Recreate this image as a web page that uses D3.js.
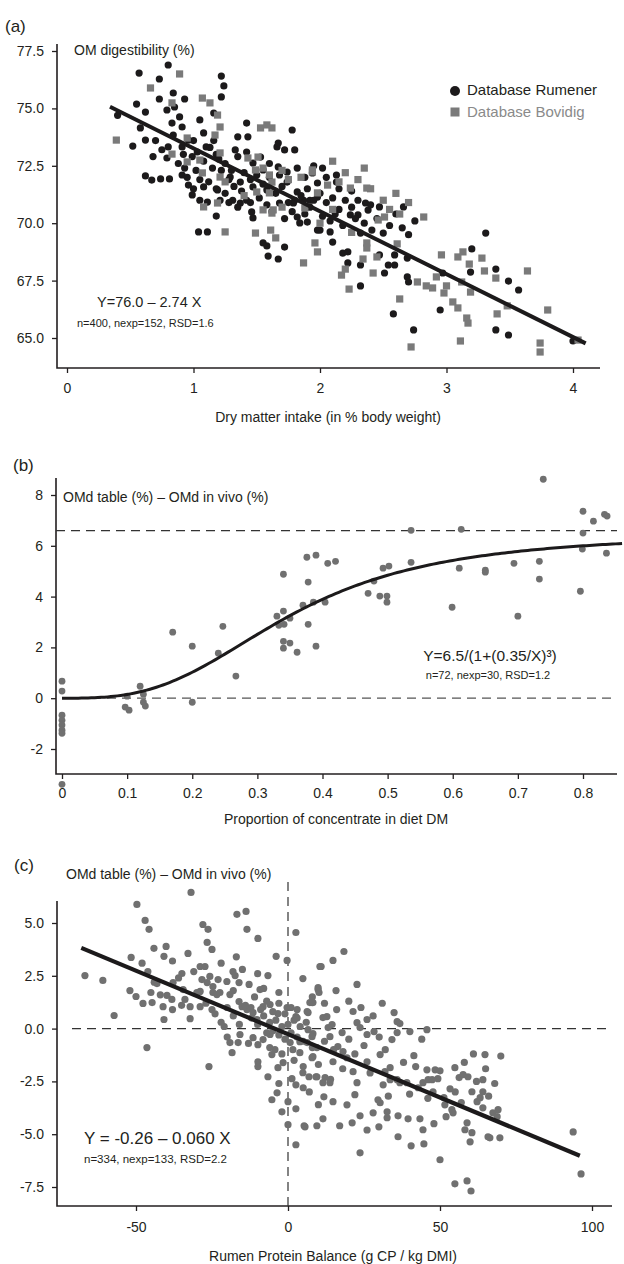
<!DOCTYPE html>
<html>
<head>
<meta charset="utf-8">
<script src="https://cdn.jsdelivr.net/npm/d3@7"></script>
<style>
  body { margin: 0; background: #fff; }
  svg { display: block; font-family: "Liberation Sans", Arial, sans-serif; }
</style>
</head>
<body>
<svg id="chart" width="624" height="1264"></svg>
<script>
// ---- Panel (a): OM digestibility vs dry matter intake ----
const rumener = [
  [0.57,76.54],[0.73,76.28],[0.80,76.89],[1.22,76.41],[1.24,75.98],[1.22,75.5],[0.73,75.41],[0.84,75.67],
  [0.93,75.41],[0.55,75.19],[0.62,74.84],[0.40,74.7],[0.58,74.15],[0.52,73.36],[0.62,73.62],[0.79,74.93],
  [0.85,75.06],[0.89,74.63],[0.83,74.36],[0.91,74.19],[0.84,73.84],[0.80,73.32],[0.79,72.84],[0.91,73.32],
  [0.96,73.62],[1.05,74.5],[1.08,73.93],[1.10,73.32],[1.16,74.8],[1.16,73.6],[0.99,72.9],[0.91,72.1],
  [0.62,72.06],[0.67,71.88],[0.74,71.93],[0.81,71.93],[0.93,72.4],[0.96,71.66],[0.99,71.23],[1.08,71.58],
  [1.05,71.0],[1.11,70.92],[1.19,71.45],[1.29,72.01],[1.37,71.79],[1.42,74.36],[1.35,73.76],[1.43,73.76],
  [1.33,73.19],[1.42,73.1],[1.47,72.62],[1.53,72.88],[1.55,72.32],[1.66,73.32],[1.72,73.19],[1.80,73.19],
  [1.78,74.06],[1.67,73.49],[1.67,72.45],[1.74,72.23],[1.74,71.79],[1.82,71.36],[1.94,72.19],[1.42,71.0],
  [1.31,71.0],[1.21,71.0],[1.47,71.58],[1.58,71.45],[1.87,71.0],[1.79,70.88],[1.92,71.0],[1.98,71.14],
  [1.04,69.62],[1.11,69.62],[1.18,70.31],[1.46,70.49],[1.47,70.23],[1.55,69.14],[1.58,69.01],[1.72,68.96],
  [1.59,68.57],[1.67,68.44],[1.82,70.27],[1.84,70.01],[1.90,70.05],[1.98,69.7],[1.68,70.88],[1.37,70.88],
  [2.00,69.7],[2.08,69.62],[2.10,69.18],[2.18,68.7],[2.22,68.75],[2.22,68.27],[2.32,68.18],[2.32,67.27],
  [2.32,69.57],[2.41,69.7],[2.50,69.57],[2.47,68.62],[2.51,67.83],[2.54,68.18],[2.59,68.18],[2.59,68.62],
  [2.69,68.48],[2.69,67.66],[2.70,67.44],[2.58,66.05],[2.74,65.35],[2.95,66.22],[2.97,67.83],[3.19,67.87],
  [3.20,68.88],[3.31,69.57],[3.39,68.0],[3.49,67.48],[3.57,67.09],[3.39,65.35],[3.49,65.13],[4.00,64.87],
  [2.36,70.88],[2.38,70.57],[2.47,70.71],[2.66,70.71],[2.30,70.36],[2.24,70.36],[2.02,72.4],[2.13,72.1],
  [2.13,71.79],[1.98,71.75],
  [1.25,72.6],[1.30,72.3],[1.35,72.9],[1.28,71.9],[1.40,72.2],[1.45,71.9],[1.50,72.1],[1.38,71.4],
  [1.32,71.6],[1.25,71.3],[1.20,72.8],[1.15,72.4],[1.12,71.8],[1.18,71.5],[1.02,72.3],[1.05,71.9],
  [1.00,71.5],[0.95,72.0],[1.55,71.7],[1.60,72.0],[1.65,71.3],[1.70,71.6],[1.75,70.9],[1.80,71.0],
  [1.85,71.2],[1.90,71.5],[1.95,71.0],[2.00,71.3],[2.05,70.9],[2.10,71.1],[2.15,70.6],[2.20,71.0],
  [2.25,70.7],[1.58,70.8],[1.62,70.5],[1.72,70.2],[1.78,70.5],[1.88,70.4],[1.92,70.7],[2.02,70.3],
  [2.08,70.1],[2.12,70.4],[2.18,69.9],[2.28,70.2],[2.35,70.0],[1.45,70.9],[1.52,71.1],[1.35,70.7],
  [1.28,70.9],[0.70,73.6],[0.75,73.2],[0.68,72.9],[0.88,72.6],[0.92,73.0],[1.00,73.6],[1.03,73.1],
  [1.08,72.7],[1.13,73.3],[1.18,73.0],[1.22,72.3],[1.60,72.6],[1.68,72.1],[1.82,72.4],[1.88,72.0],
  [1.95,72.5],[2.05,72.0],[2.15,71.5],[2.25,71.4],[2.30,71.0],[2.40,70.8],[2.45,70.2],[2.55,69.9],
  [2.60,70.4],[2.65,69.8],[2.70,69.5],[2.75,70.1]
];
const bovidig = [
  [0.39,73.62],[0.66,75.89],[0.89,76.5],[0.83,75.24],[1.07,75.45],[1.13,75.24],[1.19,74.71],[1.21,74.19],
  [1.17,73.84],[0.95,73.71],[0.83,73.01],[0.95,72.67],[1.05,72.75],[1.07,72.19],[1.21,73.06],[1.21,72.01],
  [1.08,70.71],[1.19,70.88],[1.53,74.15],[1.58,74.28],[1.62,74.15],[1.51,72.88],[1.49,72.32],[1.43,72.84],
  [1.60,72.1],[1.62,71.79],[1.50,71.36],[1.60,71.32],[1.94,72.23],[1.98,71.32],[1.88,70.66],[1.63,70.58],
  [1.25,69.62],[1.49,69.57],[1.61,69.7],[1.65,69.36],[1.87,68.27],[1.96,69.14],[1.98,68.75],[1.55,70.58],
  [1.62,70.44],[2.17,67.74],[2.23,67.13],[2.20,68.0],[2.34,68.44],[2.42,67.83],[2.45,68.53],[2.37,68.92],
  [2.37,69.14],[2.61,69.1],[2.63,66.7],[2.72,64.61],[2.77,67.44],[2.84,67.27],[2.89,67.18],[2.92,67.66],
  [3.00,67.27],[2.98,66.96],[2.96,68.62],[3.05,66.57],[3.09,66.31],[3.11,64.87],[3.09,68.53],[3.13,68.75],
  [3.18,68.22],[3.12,67.44],[3.19,67.0],[3.16,65.87],[3.17,65.65],[3.28,68.48],[3.30,67.92],[3.39,67.61],
  [3.40,66.05],[3.48,66.4],[3.64,67.92],[3.80,66.22],[3.74,64.78],[3.74,64.39],[4.04,64.91],[2.82,70.27],
  [2.63,70.4],[2.46,70.14],[2.51,70.27],[1.94,72.32],[2.24,71.53],[2.37,71.53],[2.06,71.66],
  [1.25,71.8],[1.40,71.2],[1.55,72.4],[1.70,72.3],[1.75,71.9],[1.85,72.0],[2.10,72.7],[2.20,72.2],
  [2.30,71.9],[2.40,71.5],[2.50,71.0],[2.55,70.6],[2.70,70.9],[2.10,70.6],[2.25,69.6],[2.00,70.0],
  [1.70,70.7],[2.15,71.8],[2.35,72.4],[2.60,71.3]
];
const fitA = { a: 76.0, b: -2.74, from: 0.34, to: 4.1 };
const xTicksA = [0, 1, 2, 3, 4];
const yTicksA = [65.0, 67.5, 70.0, 72.5, 75.0, 77.5];

// ---- Panel (b): OMd difference vs proportion of concentrate ----
const concentrate = [
  [0,0.67],[0,0.28],[0,-0.67],[0,-0.87],[0,-1.06],[0,-1.26],[0,-1.38],[0,-3.39],
  [0.10,0.08],[0.097,-0.35],[0.103,-0.47],[0.12,0.47],[0.125,0.16],[0.125,-0.16],[0.128,-0.31],
  [0.17,2.6],[0.20,2.05],[0.20,-0.16],[0.24,1.77],[0.247,2.83],[0.267,0.87],[0.33,3.23],[0.34,3.43],
  [0.333,2.87],[0.341,2.91],[0.35,3.15],[0.34,2.24],[0.35,2.17],[0.34,1.97],[0.361,1.81],[0.378,2.91],
  [0.39,2.05],[0.37,3.66],[0.386,3.78],[0.34,4.88],[0.376,5.55],[0.39,5.63],[0.378,4.57],[0.408,5.31],
  [0.42,5.39],[0.47,4.13],[0.488,4.02],[0.499,4.02],[0.479,4.61],[0.493,5.12],[0.502,5.2],[0.536,6.61],
  [0.536,5.35],[0.613,6.65],[0.61,5.12],[0.65,5.04],[0.65,4.96],[0.694,5.31],[0.733,5.39],[0.733,4.69],
  [0.739,8.62],[0.796,4.21],[0.80,7.36],[0.816,6.97],[0.80,6.5],[0.799,5.87],[0.833,7.24],[0.837,7.17],
  [0.836,5.71],[0.404,3.78],[0.499,3.78],[0.599,3.58],[0.70,3.23]
];
const fitB = { a: 6.5, k: 0.35, p: 3, to: 0.86 };
const refLinesB = [0, 6.6];
const xTicksB = [0, 0.1, 0.2, 0.3, 0.4, 0.5, 0.6, 0.7, 0.8];
const yTicksB = [-2, 0, 2, 4, 6, 8];

// ---- Panel (c): OMd difference vs rumen protein balance ----
const rpb = [
  [-66.8,2.51],[-60.9,2.28],[-57.2,0.62],[-49.7,5.88],[-51.6,3.37],[-47.0,5.12],[-45.7,4.70],[-44.1,3.8],
  [-40.1,3.89],[-40.8,3.42],[-50.0,1.52],[-47.7,1.19],[-45.1,1.71],[-44.7,1.23],[-46.1,2.7],[-43.1,2.13],
  [-41.1,1.04],[-40.8,0.43],[-39.8,1.57],[-38.2,1.38],[-37.8,2.18],[-34.9,2.61],[-34.5,1.85],[-31.9,6.45],
  [-32.9,3.56],[-32.2,0.47],[-33.9,1.38],[-32.2,1.04],[-28.9,1.04],[-28.0,4.93],[-26.3,4.7],[-26.6,4.08],
  [-25.0,3.75],[-28.9,2.94],[-27.3,2.94],[-28.3,2.32],[-26.6,2.18],[-24.7,1.99],[-25.7,2.47],[-28.9,1.76],
  [-24.7,1.71],[-23.4,1.61],[-25.0,0.90],[-23.0,2.32],[-22.4,1.71],[-20.1,2.23],[-19.1,1.61],[-18.1,2.7],
  [-17.4,2.51],[-16.1,2.18],[-16.8,5.41],[-13.8,5.55],[-13.5,4.7],[-9.9,4.27],[-12.8,2.09],[-16.1,1.28],
  [-15.1,1.04],[-13.5,0.9],[-12.2,1.0],[-11.5,0.76],[-9.2,1.85],[-8.2,1.04],[-10.2,0.43],[-6.6,2.51],
  [-5.9,1.14],[-3.9,3.42],[-3.0,1.71],[-3.3,0.71],[-0.3,1.0],[-0.3,3.23],[2.6,4.55],[2.6,0.57],
  [4.9,2.37],[6.6,0.76],[7.9,1.23],[9.9,1.85],[10.5,2.94],[10.9,2.94],[14.8,3.23],[18.4,3.65],
  [9.9,1.94],[10.2,1.71],[15.8,1.8],[22.7,2.09],[7.2,1.23],[8.2,1.23],[6.3,0.81],[11.5,0.52],
  [12.8,0.57],[14.5,0.19],[13.2,0.05],[21.4,0.81],[22.7,0.28],[23.7,0.05],[26.0,0.43],[28.3,-0.14],
  [34.9,0.76],[35.9,0.33],[36.8,0.24],[40.1,-0.14],[45.7,-0.05],[6.6,-0.05],[8.2,-0.24],[13.8,-0.38],
  [17.8,-0.19],[26.0,-0.28],[35.9,-0.19],[34.2,-0.52],
  [-46.4,-0.9],[-26.0,-1.8],[-19.1,-0.66],[-18.4,-1.14],[-16.4,-0.66],[-15.8,-0.28],[-11.5,-0.43],[-9.9,-0.76],
  [-8.2,-0.52],[-5.9,-0.28],[-9.9,-1.57],[-9.9,-1.8],[-5.3,-1.23],[-4.3,-1.0],[-1.6,-1.61],[-3.3,-1.85],
  [-6.6,-2.28],[-3.6,-3.04],[-5.3,-3.37],[-2.0,-3.94],[0,-3.46],[2.6,-3.8],[0,-4.55],[5.3,-4.6],
  [9.5,-4.6],[2.6,-5.5],[1.3,-2.37],[2.6,-2.66],[4.9,-2.09],[6.9,-2.28],[9.2,-2.28],[1.6,-1.0],
  [3.9,-1.14],[6.3,-0.66],[7.9,-1.38],[9.5,-0.9],[0.7,-0.66],[3.9,-0.62],
  [7.9,-0.38],[8.2,-1.33],[9.5,-2.28],[12.2,-2.32],[11.5,-2.56],[13.8,-2.56],[11.8,-3.23],[14.8,-3.46],
  [11.5,-4.27],[5.6,-4.65],[16.4,-0.85],[18.1,-1.09],[14.8,-1.57],[19.4,-1.38],[21.4,-2.04],[22.7,-2.56],
  [22.0,-3.13],[19.4,-3.61],[21.1,-4.46],[23.7,-4.13],[23.7,-5.88],[26.0,-1.57],[30.3,-1.23],[31.9,-2.04],
  [31.3,-2.66],[29.6,-3.37],[28.0,-3.99],[30.3,-3.51],[32.6,-3.94],[32.6,-4.22],[29.9,-4.65],[33.6,-1.85],
  [33.6,-2.42],[35.9,-2.42],[36.8,-2.56],[36.2,-4.13],[39.5,-4.27],[36.2,-5.12],[40.5,-5.55],[39.1,-2.56],
  [41.4,-1.28],[42.8,-2.8],[44.4,-2.56],[43.4,-4.27],[44.4,-4.79],[44.7,-5.46],[45.7,-1.95],[46.1,-2.42],
  [47.4,-2.42],[48.4,-1.95],[49.3,-2.37],[47.7,-2.99],[51.3,-3.27],[51.6,-3.61],[53.9,-3.84],[54.3,-3.99],
  [52.0,-4.17],[50.0,-6.21],[54.9,-7.35],[58.9,-7.21],[60.2,-7.69],[53.3,-2.85],[54.9,-1.85],[56.3,-2.32],
  [57.6,-2.18],[59.2,-2.28],[60.5,-2.99],[58.9,-4.46],[58.2,-4.79],[60.5,-4.93],[59.9,-5.36],[62.2,-3.46],
  [63.2,-3.27],[64.1,-2.99],[64.1,-3.75],[64.8,-1.23],[64.1,-2.42],[65.8,-5.12],[66.4,-5.17],[67.4,-3.99],
  [68.8,-4.17],[69.1,-3.84],[69.7,-5.17],[93.8,-4.89],[96.4,-6.88],
  [-12,0.5],[-10,0.2],[-8,0.6],[-7,-0.2],[-6,0.3],[-5,-0.1],[-4,0.4],[-3,-0.3],[-2,0.1],[-1,-0.5],
  [0,0.2],[1,-0.2],[2,0.4],[3,-0.4],[4,0.1],[5,-0.6],[6,0.3],[-14,1.1],[-11,1.5],[-9,0.9],
  [-7,1.3],[-5,0.8],[-3,1.2],[-1,0.7],[1,1.0],[3,0.5],[-16,0.2],[-18,0.6],[-20,1.0],[-22,0.3],
  [-24,0.7],[-30,1.7],[-35,1.1],[-38,0.9],[-42,1.6],[-36,2.4],[-20,-0.4],[-13,-0.7],[-6,-0.9],[-2,-1.2],
  [2,-1.5],[5,-1.8],[8,-0.9],[10,-1.7],[12,-0.6],[15,-1.0],[18,-1.9],[20,-0.5],[22,-1.2],[25,-0.8],
  [27,-2.1],[30,-0.4],[32,-1.0],[38,-1.6],[40,-3.1],[42,-1.8],[46,-3.3],[50,-2.0],[55,-3.0],[58,-1.6],
  [62,-2.5],[65,-1.9],[68,-2.6],[70,-1.3],[-3,-2.6],[7,-3.0],[14,-2.4],[17,-4.6],[26,-4.8],[33,-3.2],
  [48,-4.5],[57,-3.5],[44,-0.5],[61,-1.2],[66,-3.2],[-8,1.9],[-10,2.6],[-15,2.8],[-17,3.4],[-22,3.1],
  [-44,2.2],[-52,1.8],[-48,3.1],[-38,3.2],[-31,2.7],[-27,1.2],[-21,0.1],[-18,1.8],[5,-2.8],[10,-3.6],
  [3,0.9],[8,1.5],[12,1.2],[16,0.9],[20,1.3],[24,1.0],[28,0.6],[31,1.2]
];
const fitC = { a: -0.26, b: -0.060, from: -68, to: 96 };
const xTicksC = [-50, 0, 50, 100];
const yTicksC = [-7.5, -5.0, -2.5, 0.0, 2.5, 5.0];

const svg = d3.select("#chart");
const ink = "#231f20";
const grey = "#707070";

// d3 uses the typographic minus; the figure prints a plain hyphen
const hyphen = f => d => f(d).replace("\u2212", "-");

// axes with separate axis lines (the frame runs past the end ticks)
function drawAxes(x, y, xTicks, yTicks, xFmt, yFmt, box, xPad) {
  const gy = svg.append("g")
    .attr("transform", `translate(${box.left},0)`)
    .call(d3.axisLeft(y).tickValues(yTicks).tickFormat(yFmt).tickSize(5).tickPadding(8));
  const gx = svg.append("g")
    .attr("transform", `translate(0,${box.bottom})`)
    .call(d3.axisBottom(x).tickValues(xTicks).tickFormat(xFmt).tickSize(5).tickPadding(xPad));
  [gx, gy].forEach(g => {
    g.select(".domain").remove();
    g.selectAll("line").attr("stroke", ink).attr("stroke-width", 1.3);
    g.selectAll("text").attr("fill", ink).style("font-size", "14px")
      .style("font-family", '"Liberation Sans", Arial, sans-serif');
  });
  svg.append("path")
    .attr("d", `M${box.left},${box.top}V${box.bottom}H${box.right}`)
    .attr("fill", "none").attr("stroke", ink).attr("stroke-width", 1.6);
}

function label(x, y, txt, size, opts = {}) {
  return svg.append("text")
    .attr("x", x).attr("y", y)
    .attr("fill", opts.fill || ink)
    .attr("text-anchor", opts.anchor || "start")
    .attr("dominant-baseline", "middle")
    .style("font-size", size + "px")
    .text(txt);
}

// ---------- (a) ----------
const xa = d3.scaleLinear().domain([0, 4]).range([67, 573]);
const ya = d3.scaleLinear().domain([65, 77.5]).range([338, 51]);
drawAxes(xa, ya, xTicksA, yTicksA, d3.format("d"), d3.format(".1f"),
  { left: 57, right: 600, top: 44, bottom: 368 }, 10);

svg.append("g").selectAll("circle")
  .data(rumener).join("circle")
  .attr("cx", d => xa(d[0])).attr("cy", d => ya(d[1]))
  .attr("r", 3.6).attr("fill", "#1c1a1b");

svg.append("g").selectAll("rect")
  .data(bovidig).join("rect")
  .attr("x", d => xa(d[0]) - 3.6).attr("y", d => ya(d[1]) - 3.6)
  .attr("width", 7.2).attr("height", 7.2).attr("fill", "#7a7a7a");

svg.append("line")
  .attr("x1", xa(fitA.from)).attr("y1", ya(fitA.a + fitA.b * fitA.from))
  .attr("x2", xa(fitA.to)).attr("y2", ya(fitA.a + fitA.b * fitA.to))
  .attr("stroke", "#1c1a1b").attr("stroke-width", 4);

label(5, 28, "(a)", 17);
label(74, 51, "OM digestibility (%)", 14);
svg.append("circle").attr("cx", 455).attr("cy", 91).attr("r", 5).attr("fill", "#1c1a1b");
label(467, 91, "Database Rumener", 15);
svg.append("rect").attr("x", 450.5).attr("y", 107.5).attr("width", 9).attr("height", 9).attr("fill", "#7a7a7a");
label(467, 113, "Database Bovidig", 15, { fill: "#8a8a8a" });
label(97, 303, "Y=76.0 – 2.74 X", 14.5);
label(77, 324, "n=400, nexp=152, RSD=1.6", 11);
label(328, 418, "Dry matter intake (in % body weight)", 14, { anchor: "middle" });

// ---------- (b) ----------
const xb = d3.scaleLinear().domain([0, 0.8]).range([62, 583]);
const yb = d3.scaleLinear().domain([-2, 8]).range([749, 495]);
drawAxes(xb, yb, xTicksB, yTicksB, d => d === 0 ? "0" : d3.format(".1f")(d), hyphen(d3.format("d")),
  { left: 56, right: 617, top: 478, bottom: 774 }, 9);

svg.append("line")
  .attr("x1", xb(0)).attr("x2", 617).attr("y1", yb(refLinesB[0])).attr("y2", yb(refLinesB[0]))
  .attr("stroke", "#555").attr("stroke-width", 1.2).attr("stroke-dasharray", "9,6");
svg.append("line")
  .attr("x1", 56).attr("x2", 617).attr("y1", yb(refLinesB[1])).attr("y2", yb(refLinesB[1]))
  .attr("stroke", "#333").attr("stroke-width", 1.2).attr("stroke-dasharray", "9,6");

svg.append("g").selectAll("circle")
  .data(concentrate).join("circle")
  .attr("cx", d => xb(d[0])).attr("cy", d => yb(d[1]))
  .attr("r", 3.4).attr("fill", grey);

const curveB = d3.range(0, fitB.to + 0.001, 0.005)
  .map(x => [x, x === 0 ? 0 : fitB.a / (1 + Math.pow(fitB.k / x, fitB.p))]);
svg.append("path")
  .datum(curveB)
  .attr("d", d3.line().x(d => xb(d[0])).y(d => yb(d[1])))
  .attr("fill", "none").attr("stroke", "#1c1a1b").attr("stroke-width", 3);

label(13, 467, "(b)", 17);
label(63, 498, "OMd table (%) – OMd in vivo (%)", 14);
label(490, 657, "Y=6.5/(1+(0.35/X)³)", 15.5, { anchor: "middle" });
label(488, 676, "n=72, nexp=30, RSD=1.2", 11, { anchor: "middle" });
label(336, 820, "Proportion of concentrate in diet DM", 14, { anchor: "middle" });

// ---------- (c) ----------
const xc = d3.scaleLinear().domain([-50, 100]).range([136, 592]);
const yc = d3.scaleLinear().domain([-7.5, 5]).range([1187, 923]);
drawAxes(xc, yc, xTicksC, yTicksC, hyphen(d3.format("d")), hyphen(d3.format(".1f")),
  { left: 57, right: 612, top: 901, bottom: 1206 }, 11);

svg.append("line")
  .attr("x1", 72).attr("x2", 607).attr("y1", yc(0)).attr("y2", yc(0))
  .attr("stroke", "#333").attr("stroke-width", 1.2).attr("stroke-dasharray", "9,6");
svg.append("line")
  .attr("x1", xc(0)).attr("x2", xc(0)).attr("y1", 882).attr("y2", 1206)
  .attr("stroke", "#333").attr("stroke-width", 1.2).attr("stroke-dasharray", "9,6");

svg.append("g").selectAll("circle")
  .data(rpb).join("circle")
  .attr("cx", d => xc(d[0])).attr("cy", d => yc(d[1]))
  .attr("r", 3.6).attr("fill", grey);

svg.append("line")
  .attr("x1", xc(fitC.from)).attr("y1", yc(fitC.a + fitC.b * fitC.from))
  .attr("x2", xc(fitC.to)).attr("y2", yc(fitC.a + fitC.b * fitC.to))
  .attr("stroke", "#1c1a1b").attr("stroke-width", 4.2);

label(14, 867, "(c)", 17);
label(66, 875, "OMd table (%) – OMd in vivo (%)", 14);
label(84, 1140, "Y = -0.26 – 0.060 X", 17);
label(84, 1160, "n=334, nexp=133, RSD=2.2", 11.5);
label(333, 1257, "Rumen Protein Balance (g CP / kg DMI)", 14, { anchor: "middle" });
</script>
</body>
</html>
